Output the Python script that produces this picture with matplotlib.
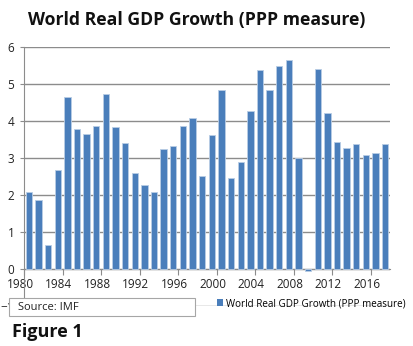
import matplotlib
matplotlib.use("Agg")
import matplotlib.pyplot as plt
import matplotlib.transforms as mtransforms
from matplotlib.patches import Rectangle, Patch
import numpy as np

plt.rcParams["font.family"] = ["Open Sans", "DejaVu Sans"]

years = list(range(1980, 2018))
growth = [2.08, 1.86, 0.66, 2.69, 4.65, 3.79, 3.64, 3.85, 4.73, 3.83,
          3.40, 2.59, 2.26, 2.08, 3.24, 3.32, 3.87, 4.08, 2.52, 3.61,
          4.82, 2.47, 2.88, 4.28, 5.38, 4.84, 5.48, 5.63, 2.99, -0.05,
          5.40, 4.20, 3.44, 3.26, 3.39, 3.07, 3.14, 3.39]
tick_years = list(range(1980, 2018, 4))
series_name = "World Real GDP Growth (PPP measure)"

bar_color = "#4a7ebb"
grid_color = "#8c8c8c"

fig = plt.figure(figsize=(4.13, 3.46), dpi=100)
ax = fig.add_axes([24 / 413, 1 - 306.4 / 346, 366 / 413, (306.4 - 46.7) / 346])

ax.bar(years, growth, width=0.66, color=bar_color, edgecolor="#b9cde5",
       linewidth=0.6, zorder=3)

ax.set_xlim(1979.5, 2017.5)
ax.set_ylim(-1, 6)
ax.set_yticks(range(-1, 7))
ax.yaxis.grid(True, color=grid_color, linewidth=1.0, zorder=0)
ax.tick_params(axis="y", length=3, color=grid_color, labelsize=8.5,
               pad=4, labelcolor="#222222")

for s in ["top", "right"]:
    ax.spines[s].set_visible(False)
ax.spines["left"].set_color(grid_color)
ax.spines["bottom"].set_color(grid_color)
ax.spines["bottom"].set_position(("data", 0))

ax.set_xticks([y - 0.5 for y in tick_years])
ax.set_xticklabels([str(y) for y in tick_years])
ax.tick_params(axis="x", length=4, color=grid_color, labelsize=8.5,
               pad=2, labelcolor="#222222")
shift = mtransforms.ScaledTranslation(-4 / 100, 0, fig.dpi_scale_trans)
for lbl in ax.get_xticklabels():
    lbl.set_transform(lbl.get_transform() + shift)

fig.text(197 / 413, 1 - 20 / 346, series_name, ha="center", va="center",
         fontsize=12.7, fontweight="bold", color="#111111")

leg = ax.legend([Patch(facecolor=bar_color)], [series_name],
                loc="lower left", bbox_to_anchor=(217 / 413, 1 - 309 / 346),
                bbox_transform=fig.transFigure, frameon=False,
                fontsize=7.1, handlelength=0.65, handleheight=0.65,
                handletextpad=0.3, borderpad=0, borderaxespad=0)

box = Rectangle((9 / 413, 1 - 316 / 346), 186 / 413, 18 / 346,
                transform=fig.transFigure, facecolor="white",
                edgecolor="#a6a6a6", linewidth=0.8, zorder=5)
fig.add_artist(box)
fig.text(18 / 413, 1 - 307.5 / 346, "Source: IMF", ha="left", va="center",
         fontsize=8, color="#222222", zorder=6)

fig.text(12 / 413, 1 - 332 / 346, "Figure 1", ha="left", va="center",
         fontsize=13, fontweight="bold", color="#111111")

fig.savefig("out.png", dpi=100)
